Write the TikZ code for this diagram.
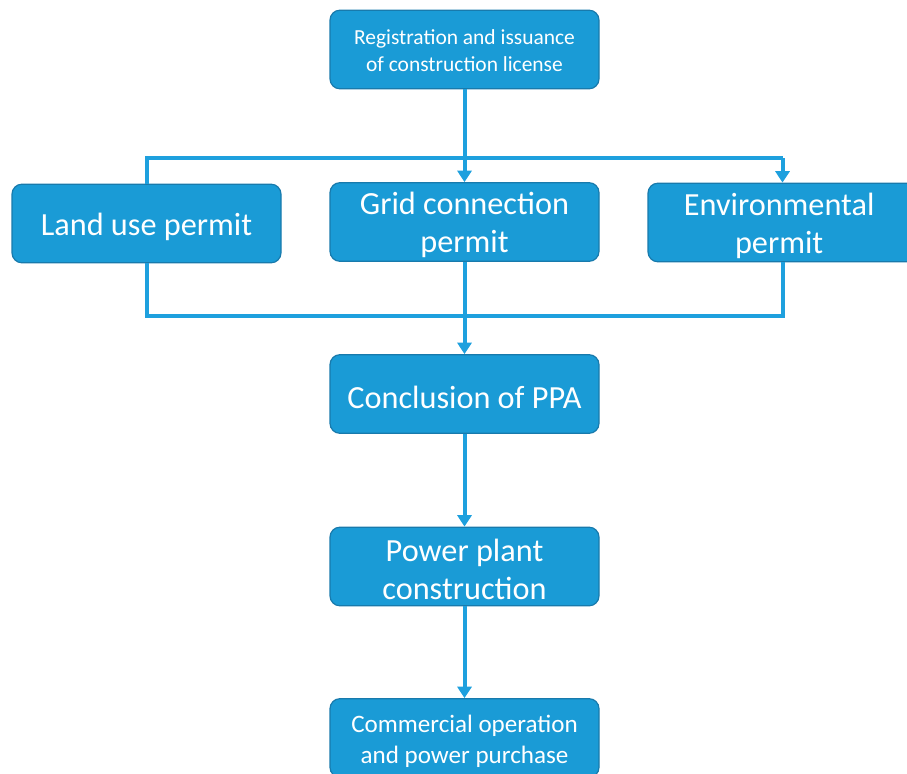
\documentclass[tikz,border=0pt]{standalone}
\usepackage{fontspec}
\setmainfont{Carlito}
\usetikzlibrary{arrows.meta}
\definecolor{boxfill}{RGB}{26,155,214}
\definecolor{boxline}{RGB}{24,122,172}
\definecolor{conn}{RGB}{30,160,222}
\tikzset{
  stepbox/.style={draw=boxline, line width=0.9pt, fill=boxfill, rounded corners=7.5pt,
    minimum width=201.75pt, minimum height=59pt, inner sep=0pt},
  txt/.style={text=white, align=center, inner sep=0pt},
  bigtxt/.style={txt, yshift=-2.2pt, font=\fontsize{24.2}{28.5}\selectfont},
  smalltxt/.style={txt, yshift=-0.9pt, font=\fontsize{16.1}{20.3}\selectfont},
  midtxt/.style={txt, yshift=-2.6pt, font=\fontsize{18.8}{23.2}\selectfont},
  conline/.style={draw=conn, line width=3pt},
  arr/.style={conline, -{Triangle[width=10.5pt,length=8.5pt]}}
}
\begin{document}
\begin{tikzpicture}[x=0.75pt,y=-0.75pt]
\useasboundingbox (0,0) rectangle (907,774);
\node[stepbox] (reg) at (464.5,49.5) {};
\node[stepbox] (land) at (146.5,223.5) {};
\node[stepbox] (grid) at (464.5,222) {};
\node[stepbox] (env) at (782.5,222.5) {};
\node[stepbox] (ppa) at (464.5,394) {};
\node[stepbox] (plant) at (464.5,566.5) {};
\node[stepbox] (comm) at (464.5,738) {};
\node[smalltxt] (regt) at (reg.center) {Registration and issuance\\of construction license};
\node[bigtxt] (landt) at (land.center) {Land use permit};
\node[bigtxt] (gridt) at (grid.center) {Grid connection\\permit};
\node[bigtxt] (envt) at ([xshift=-2.5pt]env.center) {Environmental\\permit};
\node[bigtxt] (ppat) at (ppa.center) {Conclusion of PPA};
\node[bigtxt] (plantt) at (plant.center) {Power plant\\construction};
\node[midtxt] (commt) at (comm.center) {Commercial operation\\and power purchase};
\coordinate (tl) at (146.5,158);
\coordinate (tr) at (782.5,158);
\coordinate (bl) at (146.5,316);
\coordinate (br) at (782.5,316);
\draw[arr] (reg.south) -- (grid.north);
\draw[conline] (land.north) -- (tl) -- (tr);
\draw[arr] (tr) -- (env.north);
\draw[conline] (land.south) -- (bl) -- (br) -- (env.south);
\draw[arr] (grid.south) -- (ppa.north);
\draw[arr] (ppa.south) -- (plant.north);
\draw[arr] (plant.south) -- (comm.north);
\end{tikzpicture}
\end{document}
